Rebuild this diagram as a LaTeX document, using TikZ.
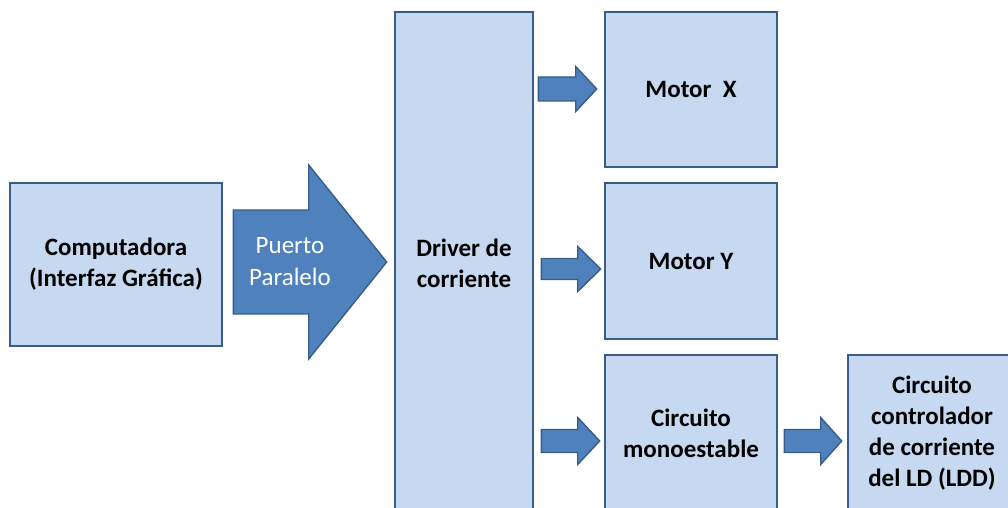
\documentclass[tikz,border=0pt]{standalone}
\usepackage{fontspec}
\setmainfont{Carlito}
\usetikzlibrary{calc}
\definecolor{boxfill}{HTML}{C6D9F1}
\definecolor{boxline}{HTML}{385D8A}
\definecolor{arrfill}{HTML}{4F81BD}
% block arrow between two nodes:
% #1 from node, #2 to node, #3 axis y, #4 gap after #1, #5 gap before #2,
% #6 half shaft width, #7 half head width, #8 head length
\newcommand\blockarrow[8]{%
  \path[arrowshape] let \p1=(#1.east), \p2=(#2.west) in
    (\x1+#4pt,#3pt-#6pt) -- (\x2-#5pt-#8pt,#3pt-#6pt) -- (\x2-#5pt-#8pt,#3pt-#7pt)
    -- (\x2-#5pt,#3pt) -- (\x2-#5pt-#8pt,#3pt+#7pt) -- (\x2-#5pt-#8pt,#3pt+#6pt)
    -- (\x1+#4pt,#3pt+#6pt) -- cycle;}
\begin{document}
\begin{tikzpicture}[x=1pt,y=1pt,
  blk/.style={draw=boxline, line width=2.6pt, fill=boxfill, align=center,
    inner sep=0pt, font=\fontsize{25}{31}\selectfont\bfseries},
  arrowshape/.style={draw=boxline, line width=1.4pt, fill=arrfill, line join=miter}]
\useasboundingbox (0,0) rectangle (1008,508);
\clip (0,0) rectangle (1008,508);
\fill[white] (0,0) rectangle (1008,508);

\node[blk, minimum width=212, minimum height=163] (comp) at (116,243.5)
  {Computadora\\(Interfaz Gráfica)};
\node[blk, minimum width=138, minimum height=503] (drv) at (464,244.5)
  {Driver de\\corriente};
\node[blk, minimum width=172, minimum height=155] (mx) at (691,418.5) {Motor\ \ X};
\node[blk, minimum width=172, minimum height=156] (my) at (691,247) {Motor Y};
\node[blk, minimum width=172, minimum height=157] (mono) at (691,74.5)
  {Circuito\\monoestable};
\node[blk, minimum width=168, minimum height=157] (ldd) at (932,74.5)
  {Circuito\\controlador\\de corriente\\del LD (LDD)};

% parallel port arrow with its label
\blockarrow{comp}{drv}{246}{10}{7}{52}{97}{78}
\node[align=center, text=white, inner sep=0pt,
  font=\fontsize{25}{32}\selectfont] (pp) at (290,246) {Puerto\\Paralelo};

% driver outputs
\blockarrow{drv}{mx}{419}{4}{7}{12}{22.5}{21}
\blockarrow{drv}{my}{239}{7}{3}{10.5}{22.5}{23}
\blockarrow{drv}{mono}{67}{7}{4}{11.5}{23.5}{22}
\blockarrow{mono}{ldd}{67}{6}{5}{11.5}{23.5}{21}
\end{tikzpicture}
\end{document}
